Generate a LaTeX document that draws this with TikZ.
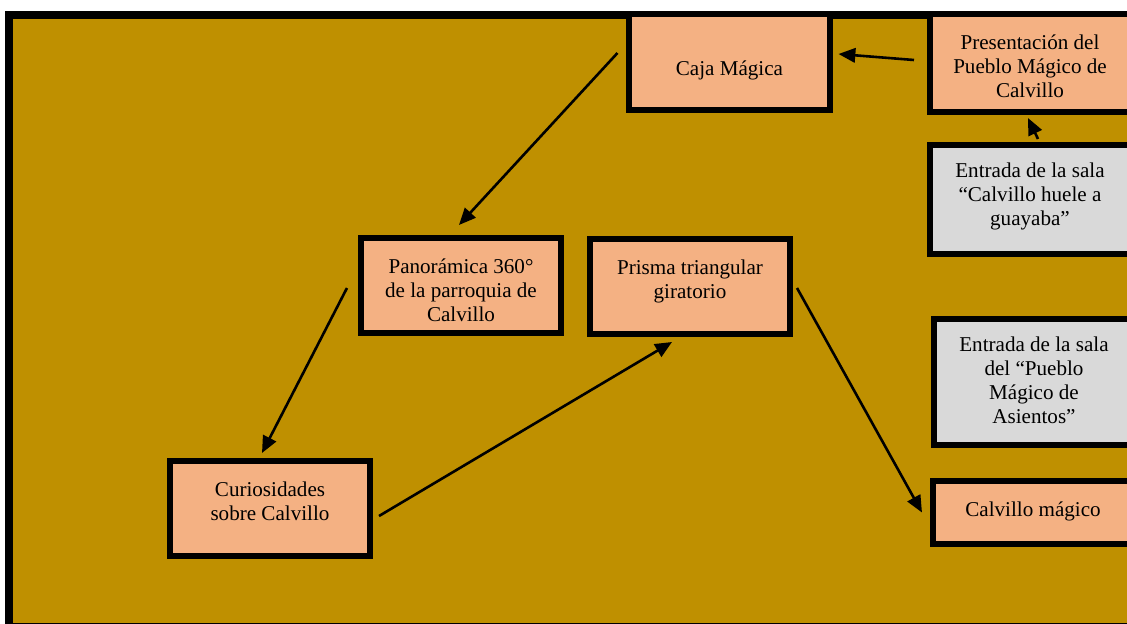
\documentclass[tikz,border=0pt]{standalone}
\usepackage{fontspec}
\setmainfont{Liberation Serif}
\usetikzlibrary{arrows.meta}
\definecolor{bgcolor}{RGB}{191, 144, 0}
\definecolor{standcolor}{RGB}{244, 177, 131}
\definecolor{salacolor}{RGB}{217, 217, 217}
\newcommand{\boxtext}[3][15pt]{\parbox[c][#2][t]{5cm}{\centering\vspace*{#1}#3}}
\tikzset{
	stand/.style={draw=black, fill=standcolor, line width=0.15cm, inner sep=0pt, minimum width=5cm, font=\fontsize{15}{17}\selectfont},
	sala/.style={stand, fill=salacolor},
	flow/.style={-{Triangle[length=0.42cm, width=0.36cm]}, line width=0.065cm}
}
\begin{document}
\begin{tikzpicture}[x=0.025cm, y=-0.025cm]

		\useasboundingbox (0,0) rectangle (1127,624);
		\clip (0,0) rectangle (1127,624);

		% Frame
		\draw[line width=0.2cm, fill=bgcolor] (9,15) rectangle (1140,627);

		% Nodes
		\node (caja) [stand] at (729.5,62) {\boxtext[33pt]{2.4cm}{Caja Mágica}};
		\node (present) [stand] at (1030,63) {\boxtext{2.45cm}{Presentación del\\Pueblo Mágico de\\Calvillo}};
		\node (guayaba) [sala] at (1030,199.5) {\boxtext[13pt]{2.725cm}{Entrada de la sala\\“Calvillo huele a\\guayaba”}};
		\node (asientos) [sala] at (1034,382) {\boxtext[13pt]{3.15cm}{Entrada de la sala\\del “Pueblo\\Mágico de\\Asientos”}};
		\node (magico) [stand] at (1033,512.5) {\boxtext{1.575cm}{Calvillo mágico}};
		\node (pano) [stand] at (461,285.5) {\boxtext{2.375cm}{Panorámica 360°\\de la parroquia de\\Calvillo}};
		\node (prisma) [stand] at (690,286.5) {\boxtext{2.375cm}{Prisma triangular\\giratorio}};
		\node (curios) [stand] at (270,508.5) {\boxtext{2.375cm}{Curiosidades\\sobre Calvillo}};

		% Arrows
		\draw [flow] ([shift={(-13,-3)}]present.west) -- ([shift={(6,-8)}]caja.east);
		\draw [flow] ([shift={(8,-3)}]guayaba.north) -- ([shift={(-2,3)}]present.south);
		\draw [flow] ([shift={(-9,-9)}]caja.west) -- ([shift={(-2,-10)}]pano.north);
		\draw [flow] ([shift={(-11,2.5)}]pano.west) -- ([shift={(-8,-5)}]curios.north);
		\draw [flow] ([shift={(6,7.5)}]curios.east) -- ([shift={(-18,5)}]prisma.south);
		\draw [flow] ([shift={(4,1.5)}]prisma.east) -- ([shift={(-8,0)}]magico.west);

\end{tikzpicture}
\end{document}
